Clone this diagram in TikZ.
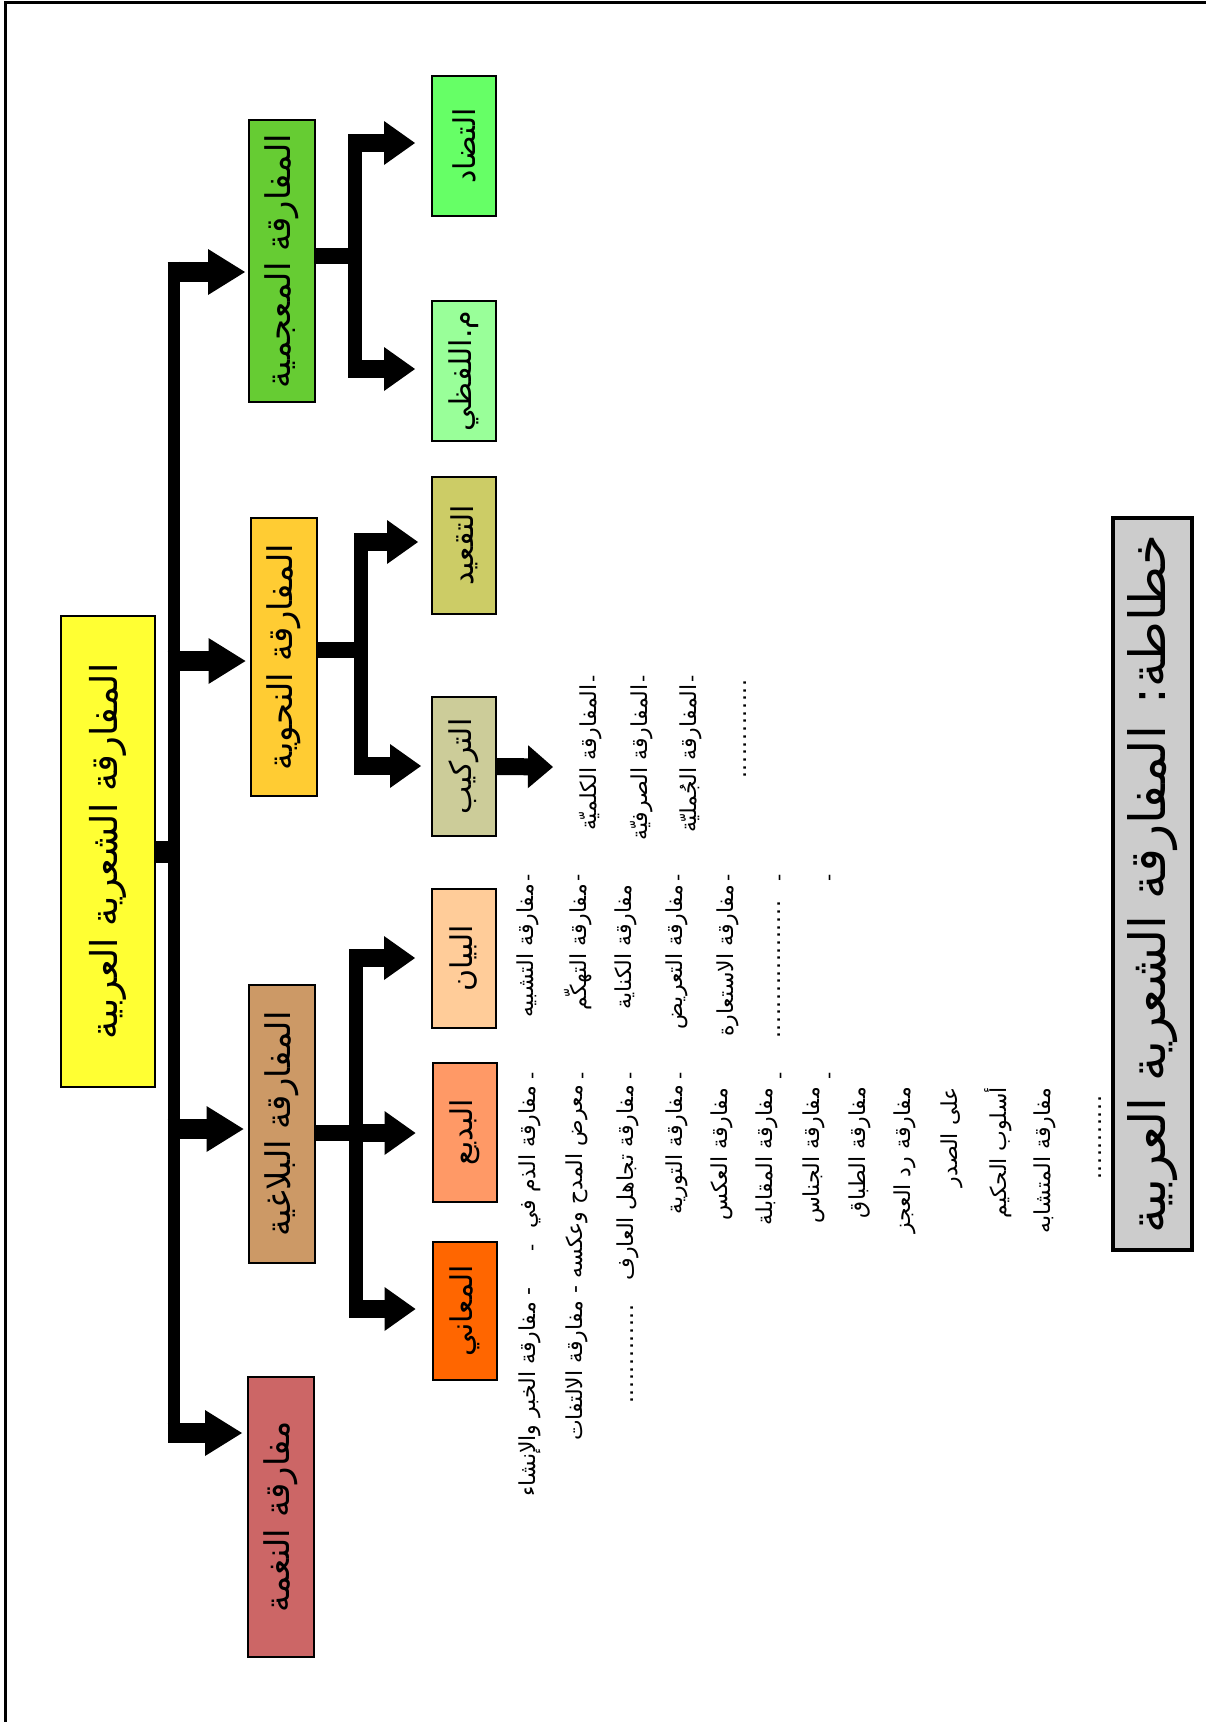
\documentclass[tikz,border=0pt]{standalone}
\usepackage{fontspec}
\usetikzlibrary{arrows.meta}
\newfontfamily\arabicfont[Script=Arabic]{DejaVu Sans}
\TeXXeTstate=1
\newcommand\rtl[1]{\beginR #1\endR}
\newcommand\fsz[1]{\fontsize{#1}{#1}\selectfont}
\newcommand\dotrow[1]{\hbox to #1pt{\leaders\hbox to 7.7pt{\hss.\hss}\hfill}}
\newcommand\up[1]{\rotatebox{90}{#1}}

\definecolor{cRoot}{HTML}{FFFF33}
\definecolor{cLex}{HTML}{66CC33}
\definecolor{cSyn}{HTML}{FFCC33}
\definecolor{cRhet}{HTML}{CC9966}
\definecolor{cTone}{HTML}{CC6666}
\definecolor{cOpp}{HTML}{66FF66}
\definecolor{cWord}{HTML}{99FF99}
\definecolor{cRule}{HTML}{CCCC66}
\definecolor{cComp}{HTML}{CCCC99}
\definecolor{cBayan}{HTML}{FFCC99}
\definecolor{cBadi}{HTML}{FF9966}
\definecolor{cMaani}{HTML}{FF6600}
\definecolor{cTitle}{HTML}{CCCCCC}

\begin{document}
\begin{tikzpicture}[x=1pt,y=-1pt,
  box/.style={draw=black, line width=2pt, inner sep=0pt},
  rootbox/.style={box, font=\arabicfont\fsz{37}},
  lvlone/.style={box, minimum width=66pt, minimum height=280pt, font=\arabicfont\fsz{34}},
  lvltwo/.style={box, minimum width=64pt, minimum height=139pt, font=\arabicfont\fsz{30}},
  listtxt/.style={inner sep=0pt, font=\arabicfont\fsz{22}, anchor=north},
  hyph/.style={inner sep=0pt, font=\arabicfont\fsz{20}, anchor=center},
  busA/.style={line width=12.7pt},
  busB/.style={line width=14pt},
  stubA/.style={line width=22pt},
  stubB/.style={line width=16pt},
  arrA/.style={line width=20pt, -{Triangle[width=46pt,length=37pt,line width=0pt]}},
  arrB/.style={line width=18pt, -{Triangle[width=44pt,length=31pt,line width=0pt]}},
  arrC/.style={line width=17pt, -{Triangle[width=43pt,length=25pt,line width=0pt]}}
]
\useasboundingbox (0,0) rectangle (1206,1722);
\fill[white] (0,0) rectangle (1206,1722);
\clip (0,0) rectangle (1206,1722);

% page frame
\draw[line width=3pt] (1230,2.2) -- (5,2.2) -- (5,1750);

% boxes
\node[rootbox, fill=cRoot, minimum width=94pt, minimum height=471pt] (root) at (108,851.5)
  {\up{\rtl{المفارقة الشعرية العربية}}};

\node[lvlone, fill=cLex,  minimum height=282pt] (lex)  at (282,261)    {\up{\rtl{المفارقة المعجمية}}};
\node[lvlone, fill=cSyn,  minimum height=278pt] (syn)  at (283.5,657)  {\up{\rtl{المفارقة النحوية}}};
\node[lvlone, fill=cRhet, minimum height=278pt] (rhet) at (281.5,1124) {\up{\rtl{المفارقة البلاغية}}};
\node[lvlone, fill=cTone, minimum height=280pt] (tone) at (281,1517)   {\up{\rtl{مفارقة النغمة}}};

\node[lvltwo, fill=cOpp,   minimum height=140pt] (opp)   at (464,146)    {\up{\rtl{التضاد}}};
\node[lvltwo, fill=cWord,  minimum height=140pt] (word)  at (464,371)    {\up{\rtl{م.اللفظي}}};
\node[lvltwo, fill=cRule,  minimum height=137pt] (rule)  at (464,545.5)  {\up{\rtl{التقعيد}}};
\node[lvltwo, fill=cComp]                        (comp)  at (464,766.5)  {\up{\rtl{التركيب}}};
\node[lvltwo, fill=cBayan]                       (bayan) at (464,958.5)  {\up{\rtl{البيان}}};
\node[lvltwo, fill=cBadi]                        (badi)  at (464.5,1132.5) {\up{\rtl{البديع}}};
\node[lvltwo, fill=cMaani, minimum height=138pt] (maani) at (464.5,1311) {\up{\rtl{المعاني}}};

% title
\node[draw=black, line width=3.5pt, fill=cTitle, inner sep=0pt,
      minimum width=79pt, minimum height=732pt, font=\arabicfont\fsz{50}] (title) at (1152.5,884)
  {\up{\rtl{خطاطة: المفارقة الشعرية العربية}}};

% main trunk
\coordinate (tT) at (174,261.5);
\coordinate (tB) at (174,1443);
\draw[busA] (tT) -- (tB);
\draw[stubA] (root.east) -- (root.east -| tT);
\coordinate (a1) at (167.5,272);
\coordinate (a2) at (167.5,661);
\coordinate (a3) at (167.5,1129);
\coordinate (a4) at (167.5,1433);
\draw[arrA, shorten >=3pt] (a1) -- (a1 -| lex.west);
\draw[arrA, shorten >=4pt] (a2) -- (a2 -| syn.west);
\draw[arrA, shorten >=4pt] (a3) -- (a3 -| rhet.west);
\draw[arrA, shorten >=5pt] (a4) -- (a4 -| tone.west);

% lexical branch
\coordinate (lT) at (355,134);
\coordinate (lB) at (355,378);
\draw[busB] (lT) -- (lB);
\draw[stubB] ([yshift=5pt]lex.east) -- ([yshift=5pt]lex.east -| lT);
\coordinate (b1) at (348,143);
\coordinate (b2) at (348,369);
\draw[arrB, shorten >=16pt] (b1) -- (b1 -| opp.west);
\draw[arrB, shorten >=16pt] (b2) -- (b2 -| word.west);

% syntactic branch
\coordinate (sT) at (361,533);
\coordinate (sB) at (361,775);
\draw[busB] (sT) -- (sB);
\draw[stubB] ([yshift=7pt]syn.east) -- ([yshift=7pt]syn.east -| sT);
\coordinate (c1) at (354,542);
\coordinate (c2) at (354,766);
\draw[arrB, shorten >=13pt] (c1) -- (c1 -| rule.west);
\draw[arrB, shorten >=10pt] (c2) -- (c2 -| comp.west);
\coordinate (compTip) at (553,767);
\draw[arrC] (comp.east) -- (compTip);

% rhetorical branch
\coordinate (rT) at (356,949);
\coordinate (rB) at (356,1318);
\draw[busB] (rT) -- (rB);
\draw[stubB] ([yshift=-9pt]rhet.east) -- ([yshift=-9pt]rhet.east -| rT);
\coordinate (e1) at (349,958);
\coordinate (e2) at (349,1133);
\coordinate (e3) at (349,1309);
\draw[arrB, shorten >=16pt] (e1) -- (e1 -| bayan.west);
\draw[arrB, shorten >=16pt] (e2) -- (e2 -| badi.west);
\draw[arrB, shorten >=16pt] (e3) -- (e3 -| maani.west);

% composition list
\node[listtxt] (k1) at (591,684) {\up{\rtl{المفارقة الكلميّة}}};
\node[listtxt] (k2) at (642,684) {\up{\rtl{المفارقة الصرفيّة}}};
\node[listtxt] (k3) at (691,684) {\up{\rtl{المفارقة الجُمليّة}}};
\node[listtxt] (kd) at (745,678) {\up{\dotrow{101}}};
\foreach \x [count=\i] in {596,646,695} \node[hyph] (kh\i) at (\x,679) {\up{-}};

% bayan list
\node[listtxt] (y1) at (528,884) {\up{\rtl{مفارقة التشبيه}}};
\node[listtxt] (y2) at (578,884) {\up{\rtl{مفارقة التهكّم}}};
\node[listtxt] (y3) at (626,884) {\up{\rtl{مفارقة الكناية}}};
\node[listtxt] (y4) at (677,884) {\up{\rtl{مفارقة التعريض}}};
\node[listtxt] (y5) at (728,884) {\up{\rtl{مفارقة الاستعارة}}};
\node[listtxt] (yd) at (779,893) {\up{\dotrow{146}}};
\foreach \x [count=\i] in {531,581,681,731,782,832} \node[hyph] (yh\i) at (\x,878) {\up{-}};

% badi list
\node[listtxt] (d1)  at (530,1085) {\up{\rtl{مفارقة الذم في}}};
\node[listtxt] (d2)  at (577,1085) {\up{\rtl{معرض المدح وعكسه - مفارقة الالتفات}}};
\node[listtxt] (d3)  at (628,1085) {\up{\rtl{مفارقة تجاهل العارف}}};
\node[listtxt] (d4)  at (677,1085) {\up{\rtl{مفارقة التورية}}};
\node[listtxt] (d5)  at (722,1087) {\up{\rtl{مفارقة العكس}}};
\node[listtxt] (d6)  at (767,1087) {\up{\rtl{مفارقة المقابلة}}};
\node[listtxt] (d7)  at (814,1087) {\up{\rtl{مفارقة الجناس}}};
\node[listtxt] (d8)  at (860,1087) {\up{\rtl{مفارقة الطباق}}};
\node[listtxt] (d9)  at (905,1087) {\up{\rtl{مفارقة رد العجز}}};
\node[listtxt] (d10) at (952,1087) {\up{\rtl{على الصدر}}};
\node[listtxt] (d11) at (998,1087) {\up{\rtl{أسلوب الحكيم}}};
\node[listtxt] (d12) at (1045,1087) {\up{\rtl{مفارقة المتشابه}}};
\node[listtxt] (dd1) at (632,1298) {\up{\dotrow{106}}};
\node[listtxt] (dd2) at (1100,1088) {\up{\dotrow{92}}};
\foreach \x [count=\i] in {535,585,633,683,783,832} \node[hyph] (dh\i) at (\x,1076) {\up{-}};

% maani list
\node[hyph] (mh1) at (535,1248) {\up{-}};
\node[listtxt] (m1) at (530,1287) {\up{\rtl{- مفارقة الخبر والإنشاء}}};

\end{tikzpicture}
\end{document}
